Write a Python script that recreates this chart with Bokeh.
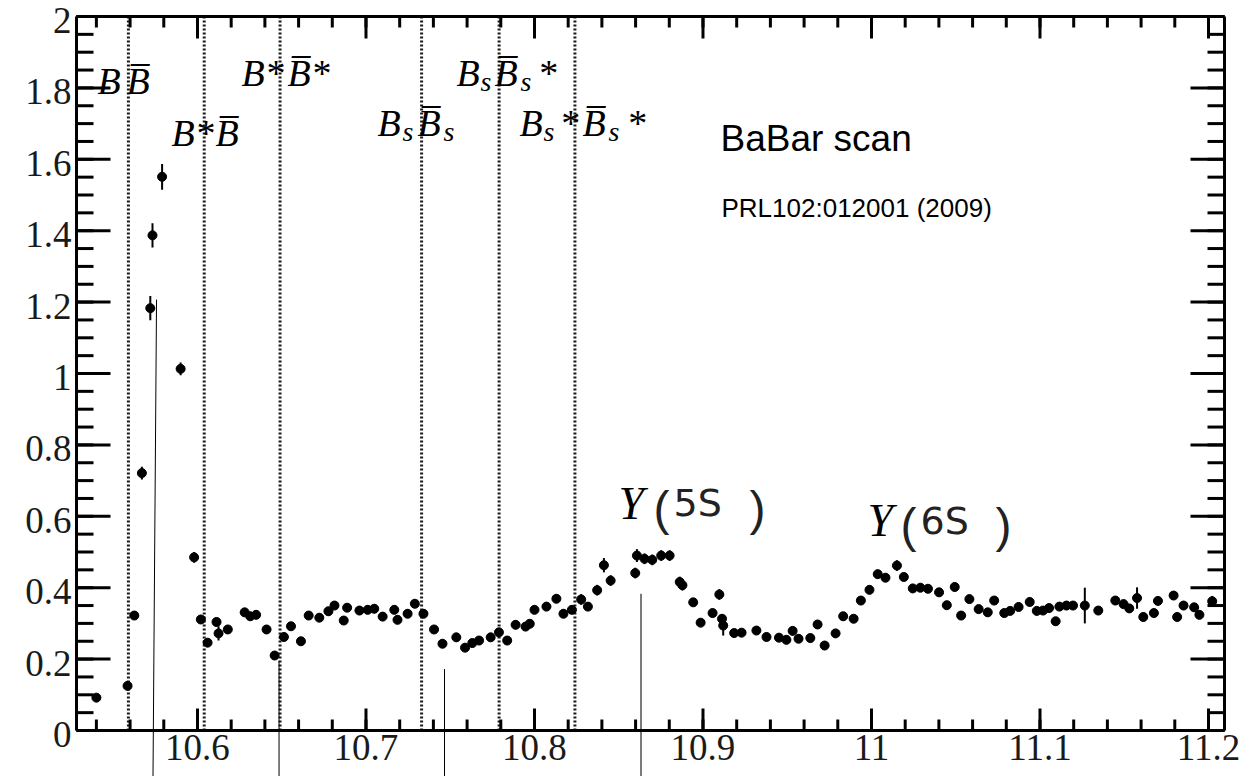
from bokeh.plotting import figure
from bokeh.models import Range1d, Label, ColumnDataSource
from bokeh.core.properties import value
from bokeh.embed import file_html
from bokeh.resources import INLINE

# ---------------- data ----------------
energy = [
    10.5400, 10.5585, 10.5625, 10.5670, 10.5720, 10.5733, 10.5790, 10.5900, 10.5980,
    10.6020, 10.6060, 10.6113, 10.6125, 10.6180, 10.6280, 10.6313, 10.6348,
    10.6410, 10.6458, 10.6513, 10.6555, 10.6614, 10.6660, 10.6723, 10.6777, 10.6813,
    10.6868, 10.6888, 10.6961, 10.7010, 10.7049, 10.7099, 10.7168, 10.7187, 10.7247,
    10.7290, 10.7341, 10.7404, 10.7454, 10.7536, 10.7588, 10.7631, 10.7671, 10.7740,
    10.7789, 10.7838, 10.7888, 10.7947, 10.7972, 10.8000, 10.8071, 10.8130, 10.8172,
    10.8222, 10.8277, 10.8317, 10.8372, 10.8412, 10.8452, 10.8598, 10.8608, 10.8653,
    10.8699, 10.8752, 10.8802, 10.8862, 10.8878, 10.8942, 10.8986, 10.9057, 10.9097,
    10.9113, 10.9120, 10.9185, 10.9229, 10.9317, 10.9377, 10.9451, 10.9495, 10.9532,
    10.9567, 10.9637, 10.9680, 10.9722, 10.9787, 10.9832, 10.9894, 10.9937, 10.9988,
    11.0037, 11.0083, 11.0151, 11.0192, 11.0245, 11.0290, 11.0335, 11.0401, 11.0447,
    11.0494, 11.0532, 11.0581, 11.0636, 11.0690, 11.0728, 11.0788, 11.0823, 11.0873,
    11.0939, 11.0981, 11.1018, 11.1054, 11.1093, 11.1115, 11.1157, 11.1196, 11.1266,
    11.1346, 11.1447, 11.1496, 11.1530, 11.1576, 11.1613, 11.1676, 11.1700, 11.1793,
    11.1814, 11.1852, 11.1915, 11.1946, 11.2022,
]
ratio = [
    0.092, 0.125, 0.322, 0.721, 1.183, 1.387, 1.551, 1.013, 0.485,
    0.311, 0.246, 0.304, 0.272, 0.283, 0.331, 0.320, 0.324,
    0.283, 0.210, 0.262, 0.292, 0.250, 0.322, 0.316, 0.334, 0.350,
    0.308, 0.344, 0.336, 0.338, 0.341, 0.319, 0.338, 0.310, 0.327,
    0.355, 0.327, 0.283, 0.243, 0.261, 0.232, 0.245, 0.252, 0.261,
    0.275, 0.252, 0.296, 0.291, 0.299, 0.338, 0.347, 0.369, 0.327,
    0.338, 0.367, 0.347, 0.393, 0.463, 0.420, 0.441, 0.490, 0.481,
    0.478, 0.490, 0.490, 0.416, 0.407, 0.359, 0.302, 0.329, 0.381,
    0.313, 0.294, 0.273, 0.274, 0.280, 0.262, 0.260, 0.254, 0.279,
    0.257, 0.259, 0.297, 0.238, 0.272, 0.320, 0.313, 0.364, 0.394,
    0.438, 0.428, 0.462, 0.430, 0.398, 0.400, 0.397, 0.387, 0.351,
    0.402, 0.322, 0.368, 0.340, 0.331, 0.364, 0.329, 0.335, 0.346,
    0.360, 0.335, 0.336, 0.343, 0.306, 0.347, 0.350, 0.350, 0.350,
    0.336, 0.364, 0.354, 0.342, 0.371, 0.318, 0.329, 0.363, 0.378,
    0.318, 0.350, 0.345, 0.324, 0.362,
]
ratio_err = [
    0.010, 0.012, 0.012, 0.018, 0.034, 0.034, 0.036, 0.018, 0.015,
    0.012, 0.012, 0.012, 0.020, 0.012, 0.012, 0.012, 0.012,
    0.012, 0.012, 0.012, 0.012, 0.012, 0.012, 0.012, 0.012, 0.012,
    0.012, 0.012, 0.012, 0.012, 0.012, 0.012, 0.012, 0.012, 0.012,
    0.012, 0.012, 0.012, 0.012, 0.012, 0.012, 0.012, 0.012, 0.012,
    0.012, 0.012, 0.012, 0.012, 0.012, 0.012, 0.012, 0.012, 0.012,
    0.012, 0.015, 0.012, 0.015, 0.020, 0.015, 0.015, 0.018, 0.015,
    0.015, 0.015, 0.015, 0.015, 0.015, 0.012, 0.012, 0.012, 0.015,
    0.012, 0.028, 0.012, 0.012, 0.012, 0.012, 0.012, 0.012, 0.012,
    0.012, 0.012, 0.012, 0.012, 0.012, 0.012, 0.012, 0.012, 0.012,
    0.012, 0.012, 0.015, 0.012, 0.012, 0.012, 0.012, 0.012, 0.012,
    0.012, 0.012, 0.012, 0.012, 0.012, 0.012, 0.012, 0.012, 0.012,
    0.012, 0.012, 0.012, 0.012, 0.012, 0.012, 0.012, 0.012, 0.050,
    0.012, 0.012, 0.012, 0.012, 0.030, 0.012, 0.012, 0.012, 0.012,
    0.012, 0.012, 0.012, 0.012, 0.015,
]
assert len(energy) == len(ratio) == len(ratio_err)

# production thresholds (dotted lines)
threshold_x = [10.559, 10.604, 10.649, 10.733, 10.779, 10.824]

# thin marker lines drawn over the figure (top end; they run to the page bottom)
mark_x_top = [10.5757, 10.6484, 10.7466, 10.8632]
mark_x_bot = [10.5736, 10.6484, 10.7466, 10.8632]
mark_y_top = [1.207, 0.195, 0.172, 0.383]
mark_color = ["black", "black", "black", "#7a7a7a"]
mark_width = [1, 1, 1, 2]

x_ticks = [10.6, 10.7, 10.8, 10.9, 11.0, 11.1, 11.2]
x_tick_labels = ["10.6", "10.7", "10.8", "10.9", "11", "11.1", "11.2"]
y_ticks = [0, 0.2, 0.4, 0.6, 0.8, 1.0, 1.2, 1.4, 1.6, 1.8, 2.0]
y_tick_labels = ["0", "0.2", "0.4", "0.6", "0.8", "1", "1.2", "1.4", "1.6", "1.8", "2"]
x_minor = [round(10.54 + 0.02 * i, 2) for i in range(34)]
y_minor = [round(0.05 * i, 2) for i in range(41)]

E_HALF = 0.0025  # half width of the horizontal bar drawn on each point

# ---------------- figure ----------------
PX_X = 1685.0   # pixels per GeV
PX_Y = 357.0    # pixels per unit of ratio
X_LO, X_HI = 10.5282, 11.2095      # the plot box
Y_LO, Y_HI = 0.0, 2.0
# the drawing area covers the whole page; the box, ticks and tick labels are drawn in it
X_START = X_LO - 76 / PX_X
X_END = X_HI + 30 / PX_X
Y_BOT = -46 / PX_Y
Y_TOP = Y_HI + 16 / PX_Y

p = figure(width=1254, height=776, x_range=Range1d(X_START, X_END),
           y_range=Range1d(Y_BOT, Y_TOP),
           output_backend="svg", toolbar_location=None,
           x_axis_type=None, y_axis_type=None,
           min_border=0, min_border_left=0, min_border_right=0,
           min_border_top=0, min_border_bottom=0)
p.background_fill_color = "white"
p.border_fill_color = "white"
p.outline_line_color = None

LABEL_FONT = "Liberation Serif"

# tick labels
xlab = ColumnDataSource(dict(x=x_ticks, y=[Y_LO] * len(x_ticks), t=x_tick_labels))
p.text(x="x", y="y", text="t", source=xlab, text_font=value(LABEL_FONT),
       text_font_size="37px", text_color="#1a1a1a", text_align="center",
       text_baseline="top", y_offset=4)
ylab = ColumnDataSource(dict(x=[X_LO] * len(y_ticks), y=y_ticks, t=y_tick_labels))
p.text(x="x", y="y", text="t", source=ylab, text_font=value(LABEL_FONT),
       text_font_size="37px", text_color="#1a1a1a", text_align="right",
       text_baseline="middle", x_offset=-5, y_offset=4)

# dotted threshold lines
thr = ColumnDataSource(dict(x=threshold_x, y0=[Y_LO] * len(threshold_x),
                            y1=[Y_HI] * len(threshold_x)))
p.segment(x0="x", x1="x", y0="y0", y1="y1", source=thr, line_color="black",
          line_width=3, line_dash="2 2", line_alpha=0.9)

# data with error bars
src = ColumnDataSource(dict(
    x=energy, y=ratio,
    ylo=[r - e for r, e in zip(ratio, ratio_err)],
    yhi=[r + e for r, e in zip(ratio, ratio_err)],
    xlo=[x - E_HALF for x in energy],
    xhi=[x + E_HALF for x in energy],
))
p.segment(x0="x", y0="ylo", x1="x", y1="yhi", source=src, line_color="black", line_width=2)
p.segment(x0="xlo", y0="y", x1="xhi", y1="y", source=src, line_color="black", line_width=2)
p.scatter(x="x", y="y", source=src, marker="circle", size=9,
          fill_color="black", line_color="black")

# overlay marker lines running down to the page bottom
marks = ColumnDataSource(dict(x0=mark_x_top, y0=mark_y_top, x1=mark_x_bot,
                              y1=[Y_BOT] * len(mark_x_top), c=mark_color, w=mark_width))
p.segment(x0="x0", y0="y0", x1="x1", y1="y1", source=marks, line_color="c", line_width="w")

# plot box edges and inward tick marks on all four sides, from the tick lists
fx0, fy0, fx1, fy1 = [], [], [], []


def add_seg(a, b, c, d):
    fx0.append(a); fy0.append(b); fx1.append(c); fy1.append(d)


add_seg(X_LO, Y_LO, X_HI, Y_LO)   # bottom
add_seg(X_LO, Y_HI, X_HI, Y_HI)   # top
add_seg(X_HI, Y_LO, X_HI, Y_HI)   # right
add_seg(X_LO, Y_LO, X_LO, Y_HI)   # left
for vals, ln in ((x_ticks, 22), (x_minor, 11)):
    h = ln / PX_Y
    for v in vals:
        add_seg(v, Y_LO, v, Y_LO + h)
        add_seg(v, Y_HI - h, v, Y_HI)
for vals, ln in ((y_ticks, 34), (y_minor, 17)):
    w = ln / PX_X
    for v in vals:
        add_seg(X_LO, v, X_LO + w, v)
        add_seg(X_HI - w, v, X_HI, v)
frame_src = ColumnDataSource(dict(x0=fx0, y0=fy0, x1=fx1, y1=fy1))
p.segment(x0="x0", y0="y0", x1="x1", y1="y1", source=frame_src,
          line_color="black", line_width=3, level="overlay")


# ---------------- text ----------------
def dx(px):
    return 10.6 + (px - 197) / PX_X


def dy(py):
    return (730 - py) / PX_Y


def txt(s, px, py, size, font="Liberation Serif", style="italic", color="black"):
    p.add_layout(Label(x=dx(px), y=dy(py), text=s, text_font=font,
                       text_font_style=style, text_font_size=f"{size}px",
                       text_color=color, text_baseline="alphabetic", text_align="left"))


BBAR = "B\u0305"
BIG, SUB = 38, 28
# B Bbar
txt("B", 97, 80, BIG)
txt(BBAR, 126, 80, BIG)
# B* Bbar
txt("B*", 171, 132, BIG)
txt(BBAR, 215, 132, BIG)
# B* Bbar*
txt("B*", 241, 72, BIG)
txt(BBAR + "*", 287, 72, BIG)
# Bs Bbar_s
txt("B", 377, 122, BIG)
txt("s", 402, 131, SUB)
txt(BBAR, 417, 122, BIG)
txt("s", 443, 131, SUB)
# Bs Bbar_s *
txt("B", 456, 72, BIG)
txt("s", 480, 81, SUB)
txt(BBAR, 494, 72, BIG)
txt("s", 520, 81, SUB)
txt("*", 537, 72, BIG)
# Bs* Bbar_s*
txt("B", 519, 122, BIG)
txt("s", 543, 131, SUB)
txt("*", 559, 122, BIG)
txt(BBAR, 582, 122, BIG)
txt("s", 608, 131, SUB)
txt("*", 626, 122, BIG)

SANS = "DejaVu Sans"
# Upsilon(5S)
txt("\u03a5", 618, 503, 46)
txt("(", 653, 508, 48, font="Liberation Sans", style="normal", color="#222222")
txt("5S", 673, 502, 38, font=SANS, style="normal", color="#222222")
txt(")", 749, 508, 48, font="Liberation Sans", style="normal", color="#222222")
# Upsilon(6S)
txt("\u03a5", 867, 520, 46)
txt("(", 900, 525, 48, font="Liberation Sans", style="normal", color="#222222")
txt("6S", 920, 520, 38, font=SANS, style="normal", color="#222222")
txt(")", 995, 525, 48, font="Liberation Sans", style="normal", color="#222222")

# BaBar annotation
txt("BaBar scan", 720, 138, 37, font="Liberation Sans", style="normal")
txt("PRL102:012001 (2009)", 721, 207, 26, font="Liberation Sans", style="normal")

open("out.html", "w").write(file_html(p, INLINE))
